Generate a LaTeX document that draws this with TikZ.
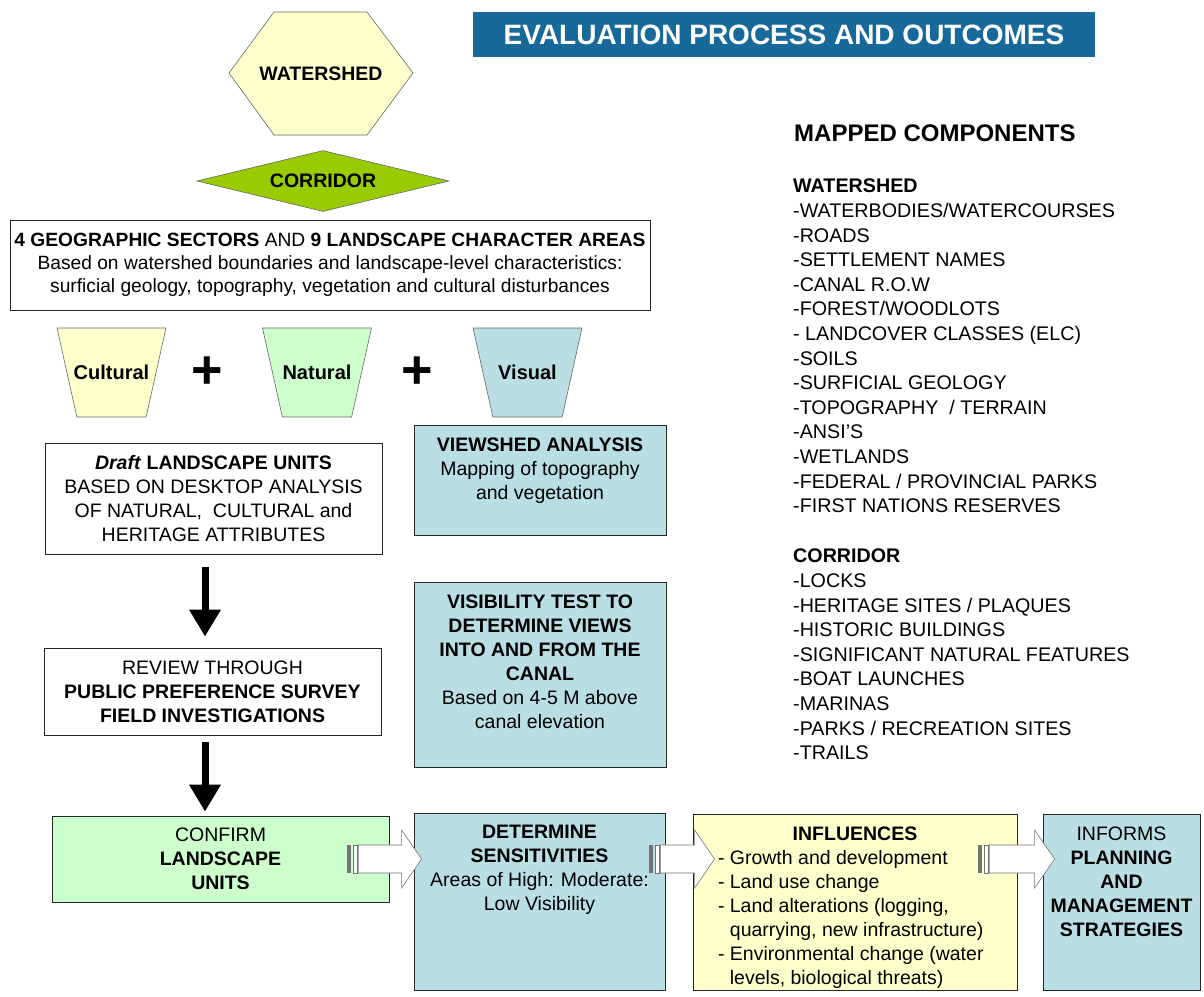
\documentclass[tikz,border=0pt]{standalone}
\usepackage{fontspec}
\setmainfont{Liberation Sans}
\usetikzlibrary{positioning,shapes.geometric,arrows.meta,calc}

\definecolor{titleblue}{HTML}{17699A}
\definecolor{paleyellow}{HTML}{FFFFCC}
\definecolor{palegreen}{HTML}{CCFFCC}
\definecolor{paleteal}{HTML}{B9DEE4}
\definecolor{corridorgreen}{HTML}{99CC00}

% text block pinned to the top of a tall box
\newcommand{\toptext}[3]{\begin{minipage}[c][#1pt][t]{#2pt}\centering #3\end{minipage}}
% striped block arrow from #1 to #2
\newcommand{\stripearrow}[2]{%
  \fill[black!55] ($(#1)+(0,-14)$) rectangle ($(#1)+(4,14)$);
  \filldraw[stripe] ($(#1)+(5.5,-14)$) rectangle ($(#1)+(9.5,14)$);
  \filldraw[stripe] ($(#1)+(11,-14)$) -- ($(#2)+(-20,-14)$) -- ($(#2)+(-20,-29)$) -- (#2)
    -- ($(#2)+(-20,29)$) -- ($(#2)+(-20,14)$) -- ($(#1)+(11,14)$) -- cycle;
}

\tikzset{
  box/.style={draw=black!85, line width=0.8pt, align=center, inner sep=4pt,
    font=\fontsize{19.5}{24}\selectfont},
  topbox/.style={box, anchor=north, inner xsep=6pt, inner ysep=12pt},
  trap/.style={trapezium, trapezium stretches=true, shape border rotate=180,
    trapezium angle=74, minimum width=109pt, minimum height=89pt, inner sep=2pt,
    draw=black!60, line width=0.6pt},
  traplabel/.style={font=\bfseries\fontsize{20}{24}\selectfont},
  plussign/.style={font=\bfseries\fontsize{54}{54}\selectfont, inner sep=0pt},
  downarrow/.style={line width=7pt, -{Triangle[width=30pt,length=27pt]}},
  stripe/.style={draw=black!55, line width=0.6pt, fill=white},
  complist/.style={align=left, anchor=north west, inner sep=0pt,
    font=\fontsize{19.7}{24.6}\selectfont}
}

\begin{document}
\begin{tikzpicture}[x=1pt,y=-1pt]
\useasboundingbox (0,0) rectangle (1204,996);

% heading
\node[fill=titleblue, text=white, font=\bfseries\fontsize{28}{30}\selectfont,
  minimum width=622pt, minimum height=45pt] (title) at (784,34.5) {EVALUATION PROCESS AND OUTCOMES};

% watershed and corridor
\filldraw[fill=paleyellow, draw=black!60, line width=0.6pt]
  (229,73) -- (274,12) -- (367,12) -- (413,73) -- (367,135) -- (274,135) -- cycle;
\node[font=\bfseries\fontsize{19.5}{24}\selectfont] (watershed) at (321,74) {WATERSHED};
\node[diamond, aspect=4.1, minimum width=252pt, minimum height=61pt, inner sep=0pt,
  fill=corridorgreen, draw=black!60, line width=0.6pt,
  font=\bfseries\fontsize{19.5}{24}\selectfont] (corridor) at (323,181) {CORRIDOR};

\node[box, minimum width=640pt, minimum height=90pt, inner xsep=2pt,
  font=\fontsize{19.2}{23}\selectfont] (sectors) at (330,265)
  {\textbf{4 GEOGRAPHIC SECTORS} AND \textbf{9 LANDSCAPE CHARACTER AREAS}\\
   Based on watershed boundaries and landscape-level characteristics:\\
   surficial geology, topography, vegetation and cultural disturbances};

% the three themes
\node[trap, fill=paleyellow, label={[traplabel]center:Cultural}] (cultural) at (111.5,372.5) {};
\node[plussign] (plusa) at (207,373) {+};
\node[trap, fill=palegreen, label={[traplabel]center:Natural}] (natural) at (317,372.5) {};
\node[plussign] (plusb) at (417,373) {+};
\node[trap, fill=paleteal, label={[traplabel]center:Visual}] (visual) at (527.5,372.5) {};

% left column
\node[box, minimum width=337pt, minimum height=111pt] (draft) at (213.5,498.5)
  {\textbf{\textit{Draft} LANDSCAPE UNITS}\\ BASED ON DESKTOP ANALYSIS\\
   OF NATURAL,\ \ CULTURAL and\\ HERITAGE ATTRIBUTES};
\node[box, minimum width=337pt, minimum height=87pt] (review) at (212.5,691.5)
  {REVIEW THROUGH\\ \textbf{PUBLIC PREFERENCE SURVEY}\\ \textbf{FIELD INVESTIGATIONS}};
\node[box, fill=palegreen, minimum width=337pt, minimum height=86pt] (confirm) at (220.5,859)
  {CONFIRM\\ \textbf{LANDSCAPE}\\ \textbf{UNITS}};

\draw[downarrow, shorten <=13pt, shorten >=11pt] ([xshift=-8.5pt]draft.south) -- ([xshift=-7.5pt]review.north);
\draw[downarrow, shorten <=7pt, shorten >=4pt] ([xshift=-7.5pt]review.south) -- ([xshift=-15.5pt]confirm.north);

% visual column
\node[topbox, fill=paleteal, minimum width=252pt] (viewshed) at (540,425)
  {\toptext{86}{240}{\textbf{VIEWSHED ANALYSIS}\\ Mapping of topography\\ and vegetation}};
\node[topbox, fill=paleteal, minimum width=252pt] (visibility) at (540,582)
  {\toptext{161}{240}{\textbf{VISIBILITY TEST TO\\ DETERMINE VIEWS\\ INTO AND FROM THE\\ CANAL}\\
   Based on 4-5 M above\\ canal elevation}};

% bottom row
\node[topbox, fill=paleteal, minimum width=251pt] (determine) at (539.5,813)
  {\toptext{153}{239}{\textbf{DETERMINE\\ SENSITIVITIES}\\ Areas of High: Moderate:\\ Low Visibility}};
\node[topbox, fill=paleyellow, minimum width=324pt] (influences) at (855,814)
  {\toptext{152}{312}{\textbf{INFLUENCES}\par\raggedright\leftskip=19pt\relax
   {-} Growth and development\\ {-} Land use change\\ {-} Land alterations (logging,\\
   \hspace*{11.9pt}quarrying, new infrastructure)\\ {-} Environmental change (water\\
   \hspace*{11.9pt}levels, biological threats)}};
\node[topbox, fill=paleteal, minimum width=157pt, inner xsep=4pt] (informs) at (1121.5,814)
  {\toptext{152}{149}{INFORMS\\ \textbf{PLANNING\\ AND\\ MANAGEMENT\\ STRATEGIES}}};

\coordinate (a1s) at ($(confirm.east)+(-42,0)$);
\coordinate (a1t) at ($(determine.west |- a1s)+(8,0)$);
\coordinate (a2s) at ($(determine.east |- a1s)+(-16,0)$);
\coordinate (a2t) at ($(influences.west |- a1s)+(22,0)$);
\coordinate (a3s) at ($(influences.east |- a1s)+(-39,0)$);
\coordinate (a3t) at ($(informs.west |- a1s)+(12,0)$);
\stripearrow{a1s}{a1t}
\stripearrow{a2s}{a2t}
\stripearrow{a3s}{a3t}

% mapped components
\node[anchor=west, inner sep=0pt, font=\bfseries\fontsize{24}{28}\selectfont] (mapped) at (794,133) {MAPPED COMPONENTS};
\node[complist] (shedlist) at (793,179)
  {\textbf{WATERSHED}\\ -WATERBODIES/WATERCOURSES\\ -ROADS\\ -SETTLEMENT NAMES\\
   -CANAL R.O.W\\ -FOREST/WOODLOTS\\ - LANDCOVER CLASSES (ELC)\\ -SOILS\\
   -SURFICIAL GEOLOGY\\ -TOPOGRAPHY\ \ / TERRAIN\\ -ANSI'S\\ -WETLANDS\\
   -FEDERAL / PROVINCIAL PARKS\\ -FIRST NATIONS RESERVES};
\node[complist] (corrlist) at (793,549)
  {\textbf{CORRIDOR}\\ -LOCKS\\ -HERITAGE SITES / PLAQUES\\ -HISTORIC BUILDINGS\\
   -SIGNIFICANT NATURAL FEATURES\\ -BOAT LAUNCHES\\ -MARINAS\\
   -PARKS / RECREATION SITES\\ -TRAILS};
\end{tikzpicture}
\end{document}
